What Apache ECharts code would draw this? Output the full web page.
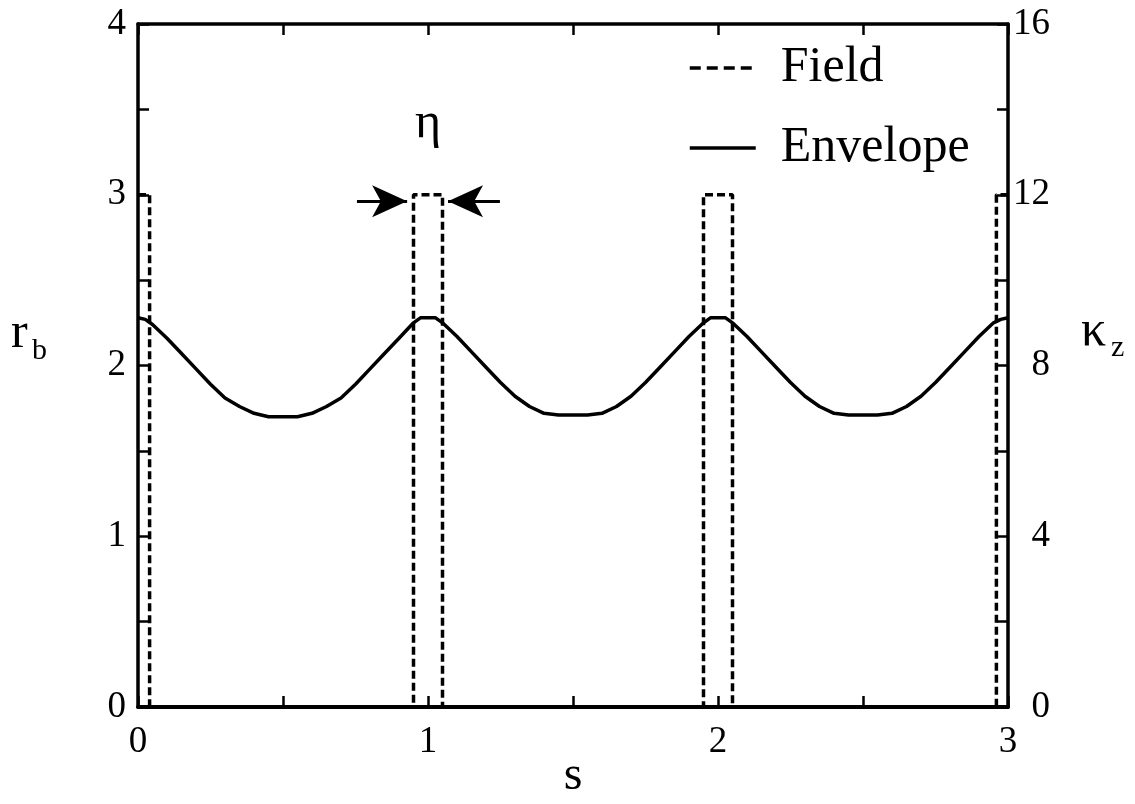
<!DOCTYPE html>
<html>
<head>
<meta charset="utf-8">
<script src="https://cdn.jsdelivr.net/npm/echarts@6/dist/echarts.min.js"></script>
<style>
html,body{margin:0;padding:0;background:#fff;}
#c{width:1135px;height:804px;}
</style>
</head>
<body>
<div id="c"></div>
<script>
// ---- data ----
var xTicks = [0, 1, 2, 3];
var leftTicks = [0, 1, 2, 3, 4];
var rightTicks = [0, 4, 8, 12, 16];

// Envelope r_b(s)
var envS = [0,0.025,0.05,0.1,0.15,0.2,0.25,0.3,0.35,0.4,0.45,0.5,0.55,0.6,0.65,0.7,0.75,0.8,0.85,0.9,0.95,0.975,1.0,
            1.025,1.05,1.1,1.15,1.2,1.25,1.3,1.35,1.4,1.45,1.5,1.55,1.6,1.65,1.7,1.75,1.8,1.85,1.9,1.95,1.975,2.0,
            2.025,2.05,2.1,2.15,2.2,2.25,2.3,2.35,2.4,2.45,2.5,2.55,2.6,2.65,2.7,2.75,2.8,2.85,2.9,2.95,2.975,3.0];
var envR = [2.28,2.27,2.24,2.16,2.07,1.98,1.89,1.81,1.76,1.72,1.70,1.70,1.70,1.72,1.76,1.81,1.89,1.98,2.07,2.16,2.25,2.28,2.28,
            2.28,2.25,2.17,2.08,1.99,1.90,1.82,1.76,1.72,1.71,1.71,1.71,1.72,1.76,1.82,1.90,1.99,2.08,2.17,2.25,2.28,2.28,
            2.28,2.25,2.17,2.08,1.99,1.90,1.82,1.76,1.72,1.71,1.71,1.71,1.72,1.76,1.82,1.90,1.99,2.08,2.17,2.25,2.27,2.28];

// Field kappa_z(s): step profile
var fieldS = [0, 0.04, 0.04, 0.95, 0.95, 1.05, 1.05, 1.95, 1.95, 2.05, 2.05, 2.96, 2.96, 3];
var fieldK = [12, 12, 0, 0, 12, 12, 0, 0, 12, 12, 0, 0, 12, 12];

// eta annotation (arrows pointing at the s=1 field edges)
var etaArrowY = 11.85;
var etaLeft = [0.755, 0.928];
var etaRight = [1.248, 1.069];
var etaLabelPos = [1.0, 13.65];

var seriesNames = ['Field', 'Envelope'];

// ---- chart ----
var FONT = 'Liberation Serif';
var chart = echarts.init(document.getElementById('c'), null, {renderer: 'canvas'});

function zip(a, b) { return a.map(function (v, i) { return [v, b[i]]; }); }

var axisLineStyle = {color: '#000', width: 3.5};
var tickStyle = {color: '#000', width: 2.5};

var option = {
  backgroundColor: '#fff',
  animation: false,
  grid: {left: 138, right: 127, top: 24, bottom: 97, containLabel: false, outerBoundsMode: 'none'},
  legend: {
    orient: 'vertical',
    left: 683,
    top: 38,
    itemWidth: 66,
    itemHeight: 4,
    itemGap: 30,
    selectedMode: false,
    itemStyle: {color: 'rgba(0,0,0,0)', borderWidth: 0},
    data: [
      {name: seriesNames[0], lineStyle: {width: 3.5, type: [11, 6]}},
      {name: seriesNames[1], lineStyle: {width: 3.5, type: 'solid'}}
    ],
    textStyle: {fontFamily: FONT, fontSize: 50, color: '#000', padding: [0, 0, 0, 20]}
  },
  xAxis: [
    {
      type: 'value', min: 0, max: 3, interval: 0.5, position: 'bottom', z: 10,
      axisLine: {onZero: false, lineStyle: {color: '#000', width: 4}},
      axisTick: {inside: true, length: 11, lineStyle: tickStyle},
      splitLine: {show: false},
      axisLabel: {
        margin: 17, fontFamily: FONT, fontSize: 37, color: '#000',
        formatter: function (v) { return xTicks.indexOf(v) >= 0 ? String(v) : ''; }
      },
      name: 's', nameLocation: 'middle', nameGap: 45, nameMoveOverlap: false,
      nameTextStyle: {fontFamily: FONT, fontSize: 48, color: '#000'}
    },
    {
      type: 'value', min: 0, max: 3, interval: 0.5, position: 'top', z: 10,
      axisLine: {onZero: false, lineStyle: axisLineStyle},
      axisTick: {inside: true, length: 11, lineStyle: tickStyle},
      splitLine: {show: false},
      axisLabel: {show: false}
    }
  ],
  yAxis: [
    {
      type: 'value', min: 0, max: 4, interval: 0.5, position: 'left', z: 10,
      axisLine: {show: true, onZero: false, lineStyle: axisLineStyle},
      axisTick: {show: true, inside: true, length: 11, lineStyle: tickStyle},
      splitLine: {show: false},
      axisLabel: {
        margin: 12, fontFamily: FONT, fontSize: 37, color: '#000',
        formatter: function (v) { return leftTicks.indexOf(v) >= 0 ? String(v) : ''; }
      }
    },
    {
      type: 'value', min: 0, max: 16, interval: 2, position: 'right', z: 10,
      axisLine: {show: true, onZero: false, lineStyle: axisLineStyle},
      axisTick: {show: true, inside: true, length: 11, lineStyle: tickStyle},
      splitLine: {show: false},
      axisLabel: {
        margin: 42, align: 'right', fontFamily: FONT, fontSize: 37, color: '#000',
        formatter: function (v) { return rightTicks.indexOf(v) >= 0 ? String(v) : ''; }
      }
    }
  ],
  series: [
    {
      name: seriesNames[0], type: 'line', xAxisIndex: 0, yAxisIndex: 1,
      data: zip(fieldS, fieldK),
      symbol: 'none', showSymbol: false, z: 3,
      lineStyle: {color: '#000', width: 3.5, type: [8, 4]},
      itemStyle: {color: '#000'},
      markLine: {
        silent: true, animation: false,
        symbol: ['none', 'arrow'], symbolSize: [24, 35],
        label: {show: false},
        lineStyle: {color: '#000', width: 3, type: 'solid'},
        itemStyle: {color: '#000'},
        data: [
          [{coord: [etaLeft[0], etaArrowY]}, {coord: [etaLeft[1], etaArrowY]}],
          [{coord: [etaRight[0], etaArrowY]}, {coord: [etaRight[1], etaArrowY]}]
        ]
      },
      markPoint: {
        silent: true, animation: false,
        symbol: 'circle', symbolSize: 1,
        itemStyle: {color: 'rgba(0,0,0,0)'},
        label: {show: true, position: 'inside', formatter: 'η', fontFamily: FONT, fontSize: 50, color: '#000'},
        data: [{coord: etaLabelPos}]
      }
    },
    {
      name: seriesNames[1], type: 'line', xAxisIndex: 0, yAxisIndex: 0,
      data: zip(envS, envR),
      symbol: 'none', showSymbol: false, z: 4,
      lineStyle: {color: '#000', width: 3.5, type: 'solid'},
      itemStyle: {color: '#000'}
    }
  ],
  graphic: [
    {type: 'text', left: 11, top: 309, style: {text: 'r', font: '50px "Liberation Serif"', fill: '#000'}},
    {type: 'text', left: 32, top: 336, style: {text: 'b', font: '30px "Liberation Serif"', fill: '#000'}},
    {type: 'text', left: 1081, top: 307, style: {text: 'κ', font: '50px "Liberation Serif"', fill: '#000'}},
    {type: 'text', left: 1111, top: 333, style: {text: 'z', font: '30px "Liberation Serif"', fill: '#000'}}
  ]
};
chart.setOption(option);
</script>
</body>
</html>
